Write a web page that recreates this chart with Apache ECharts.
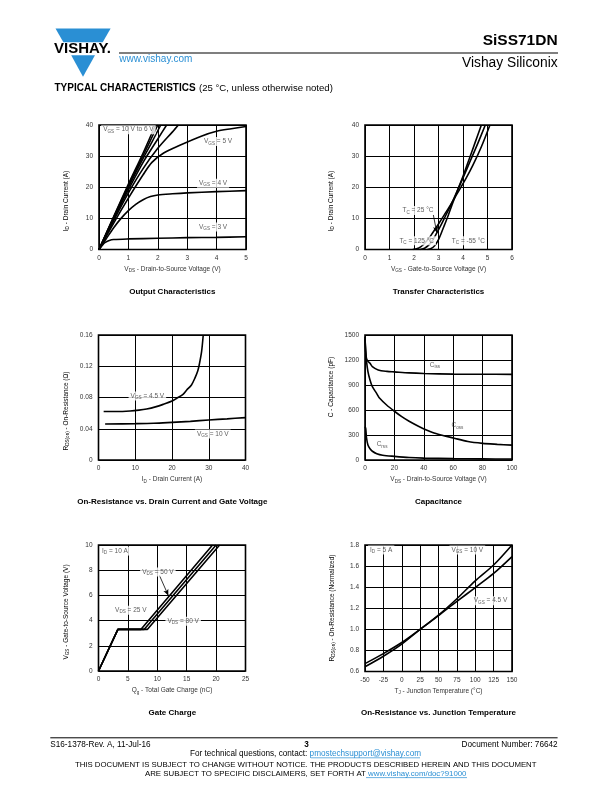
<!DOCTYPE html>
<html><head><meta charset="utf-8">
<script src="https://cdn.jsdelivr.net/npm/echarts@6/dist/echarts.min.js"></script>
<style>html,body{margin:0;padding:0;background:#fff}#c{width:612px;height:792px}</style>
</head><body><div id="c"></div>
<script>
// ---------- DATA ----------
// Output characteristics: [VDS (V), ID (A)]
const outVgs10 = [[0,0],[0.5,10.6],[1,21],[1.5,31],[1.92,40]];
const outVgs9  = [[0,0],[0.5,10.4],[1,20.5],[1.5,30.2],[2.0,40]];
const outVgs8  = [[0,0],[0.5,10.2],[1,20],[1.5,29.3],[1.8,34.5],[2.1,40]];
const outVgs7  = [[0,0],[0.5,9.8],[1,19.2],[1.5,28],[2,35.5],[2.3,40]];
const outVgs6  = [[0,0],[0.5,9.3],[1,18.2],[1.5,26],[2,32.5],[2.5,37.8],[2.7,40]];
const outVgs5  = [[0,0],[0.5,8.5],[1,16.5],[1.5,24],[1.8,28],[2.2,31],[2.75,33.5],[3.5,36.5],[4,38],[4.5,38.8],[5,39.5]];
const outVgs4  = [[0,0],[0.25,3.5],[0.5,7],[0.75,10],[1,12.5],[1.25,14.5],[1.5,16],[1.75,17],[2,17.5],[2.5,17.9],[3,18.2],[4,18.6],[5,18.9]];
const outVgs3  = [[0,0],[0.1,1.2],[0.2,2.2],[0.35,2.9],[0.5,3.2],[1,3.4],[2,3.6],[3,3.8],[4,3.9],[5,4.1]];
// Transfer characteristics: [VGS (V), ID (A)]
const trTm55  = [[2.55,0],[2.7,0.3],[2.85,1.3],[3.0,3.2],[3.1,5],[3.25,8],[3.4,11],[3.55,14.3],[3.8,19.5],[4.0,23.5],[4.25,29],[4.5,34.5],[4.75,40]];
const trT25   = [[2.25,0],[2.45,0.5],[2.65,1.8],[2.8,3.5],[2.92,5.2],[3.1,7.8],[3.3,11],[3.5,14.2],[3.75,18.5],[4.0,23],[4.3,28.5],[4.6,34],[4.91,40]];
const trT125  = [[1.95,0],[2.2,0.5],[2.4,1.7],[2.6,3.5],[2.75,5.2],[3.0,8.2],[3.25,11.3],[3.48,14.2],[3.75,17.8],[4.1,22.5],[4.4,27],[4.75,33],[5.1,40]];
// On-resistance vs drain current: [ID (A), RDS(on) (ohm)]
const rdsVgs45 = [[1.4,0.062],[5,0.062],[8.6,0.0627],[11,0.0638],[13.1,0.0653],[15.5,0.068],[17.6,0.0712],[20,0.0755],[21.3,0.079],[23,0.084],[24,0.0896],[25.3,0.096],[26.2,0.1045],[27,0.114],[27.4,0.1216],[28.05,0.1387],[28.5,0.16]];
const rdsVgs10 = [[1.8,0.046],[10,0.0465],[15,0.047],[20,0.0482],[25,0.0495],[30,0.0512],[35,0.0527],[40,0.0543]];
// Capacitance: [VDS (V), C (pF)]
const capCiss = [[0,1480],[0.5,1300],[1,1220],[2,1185],[3.4,1160],[5,1120],[9,1080],[15,1063],[20,1057],[30,1045],[40,1038],[60,1031],[80,1029],[100,1027]];
const capCoss = [[0,1450],[0.5,1300],[1,1190],[2,1060],[3.4,960],[5,880],[7.9,800],[10,740],[14.7,660],[20,585],[25,520],[30,465],[37,400],[46,330],[53,295],[60,265],[70,222],[80,200],[90,188],[100,178]];
const capCrss = [[0,400],[0.5,377],[1,270],[2,180],[3.4,135],[5,105],[8,76],[12,58],[20,44],[30,30],[40,23],[60,16],[80,13],[100,12]];
// Gate charge: [Qg (nC), VGS (V)]
const gcVds25 = [[0,0],[3.3,3.3],[7.2,3.3],[19.4,10]];
const gcVds50 = [[0,0],[3.3,3.3],[7.75,3.3],[20.0,10]];
const gcVds80 = [[0,0],[3.3,3.3],[8.3,3.3],[20.6,10]];
// On-resistance vs junction temperature: [TJ (°C), normalized RDS(on)]
const rtVgs10 = [[-50,0.645],[-25,0.745],[0,0.86],[25,1.0],[50,1.135],[75,1.29],[100,1.46],[125,1.61],[150,1.8]];
const rtVgs45 = [[-50,0.675],[-25,0.77],[0,0.875],[25,1.0],[50,1.13],[75,1.265],[100,1.396],[125,1.53],[150,1.69]];
// Annotations: [x, y, text, whiteBackground]
const annOut = [[1.0,38.5,'{n|V}{s|GS}{n| = 10 V to 6 V}',1],[4.05,34.7,'{n|V}{s|GS}{n| = 5 V}',1],[3.88,21.3,'{n|V}{s|GS}{n| = 4 V}',1],[3.88,7.2,'{n|V}{s|GS}{n| = 3 V}',1]];
const annTr = [[2.16,12.5,'{n|T}{s|C}{n| = 25 °C}',1],[2.11,2.8,'{n|T}{s|C}{n| = 125 °C}',1],[4.22,2.8,'{n|T}{s|C}{n| = -55 °C}',1]];
const annRds = [[13.3,0.0819,'{n|V}{s|GS}{n| = 4.5 V}',1],[31.1,0.0333,'{n|V}{s|GS}{n| = 10 V}',1]];
const annCap = [[47.6,1139,'{n|C}{s|iss}',0],[62.9,417,'{n|C}{s|oss}',0],[11.6,189,'{n|C}{s|rss}',0]];
const annGc = [[2.8,9.52,'{n|I}{s|D}{n| = 10 A}',1],[10.1,7.85,'{n|V}{s|DS}{n| = 50 V}',1],[5.5,4.83,'{n|V}{s|DS}{n| = 25 V}',1],[14.4,3.95,'{n|V}{s|DS}{n| = 80 V}',1]];
const annRt = [[-28,1.753,'{n|I}{s|D}{n| = 5 A}',1],[89.2,1.753,'{n|V}{s|GS}{n| = 10 V}',1],[120.8,1.272,'{n|V}{s|GS}{n| = 4.5 V}',1]];
const arrowTr = [[2.79,11.1],[2.93,5.4]];
const arrowGc = [[10.34,7.61],[11.87,6.0]];

// ---------- STYLE ----------
const FF = '"Liberation Sans", Arial, sans-serif';
const TXT = '#333';
const rich = {
  n: {fontSize: 6.5, fontFamily: FF, color: TXT, lineHeight: 9},
  s: {fontSize: 4.6, fontFamily: FF, color: TXT, lineHeight: 5, verticalAlign: 'bottom'}
};
const grids = [
  {left: 99, top: 125, width: 147, height: 124.5},
  {left: 365, top: 125, width: 147, height: 124.5},
  {left: 98.5, top: 335, width: 147, height: 125},
  {left: 365, top: 335, width: 147, height: 125},
  {left: 98.5, top: 545, width: 147, height: 126},
  {left: 365, top: 545, width: 147, height: 126.5}
].map(g => Object.assign({show: true, borderColor: '#000', borderWidth: 1.6, backgroundColor: 'transparent'}, g));

const plain = v => String(v);
function xAx(i, min, max, interval, name, fmt) {
  return {gridIndex: i, type: 'value', min, max, interval,
    name, nameLocation: 'middle', nameGap: 15, nameTextStyle: {rich, fontSize: 6.5},
    axisLine: {show: false}, axisTick: {show: false},
    splitLine: {show: true, lineStyle: {color: '#000', width: 1}},
    axisLabel: {fontSize: 6.5, fontFamily: FF, color: TXT, margin: 5, formatter: fmt || plain}};
}
function yAx(i, min, max, interval, fmt) {
  return {gridIndex: i, type: 'value', min, max, interval,
    axisLine: {show: false}, axisTick: {show: false},
    splitLine: {show: true, lineStyle: {color: '#000', width: 1}},
    axisLabel: {fontSize: 6.5, fontFamily: FF, color: TXT, margin: 6, formatter: fmt || plain}};
}
function curve(i, data, smooth) {
  return {type: 'line', xAxisIndex: i, yAxisIndex: i, data, symbol: 'none', showSymbol: false,
    smooth: smooth === undefined ? 0.3 : smooth,
    lineStyle: {color: '#000', width: 1.6}, clip: true, silent: true, z: 3};
}
function ann(i, list, arrow) {
  const s = {type: 'scatter', xAxisIndex: i, yAxisIndex: i, symbolSize: 0, silent: true, z: 5,
    data: list.map(a => ({value: [a[0], a[1]], label: {show: true, position: 'inside', formatter: a[2], rich,
      backgroundColor: a[3] ? '#fff' : 'transparent', padding: [0, 2]}}))};
  if (arrow) {
    s.markLine = {silent: true, symbol: ['none', 'arrow'], symbolSize: [4, 6], label: {show: false},
      lineStyle: {color: '#000', width: 0.8, type: 'solid'},
      data: [[{coord: arrow[0]}, {coord: arrow[1]}]]};
  }
  return s;
}
const f2 = v => v === 0 ? '0' : v.toFixed(2);
const f1 = v => v.toFixed(1);

const xAxes = [
  xAx(0, 0, 5, 1, '{n|V}{s|DS}{n| - Drain-to-Source Voltage (V)}'),
  xAx(1, 0, 6, 1, '{n|V}{s|GS}{n| - Gate-to-Source Voltage (V)}'),
  xAx(2, 0, 40, 10, '{n|I}{s|D}{n| - Drain Current (A)}'),
  xAx(3, 0, 100, 20, '{n|V}{s|DS}{n| - Drain-to-Source Voltage (V)}'),
  xAx(4, 0, 25, 5, '{n|Q}{s|g}{n| - Total Gate Charge (nC)}'),
  xAx(5, -50, 150, 25, '{n|T}{s|J}{n| - Junction Temperature (°C)}')
];
const yAxes = [
  yAx(0, 0, 40, 10), yAx(1, 0, 40, 10), yAx(2, 0, 0.16, 0.04, f2),
  yAx(3, 0, 1500, 300), yAx(4, 0, 10, 2), yAx(5, 0.6, 1.8, 0.2, f1)
];

const series = [
  curve(0, outVgs10), curve(0, outVgs9), curve(0, outVgs8), curve(0, outVgs7), curve(0, outVgs6),
  curve(0, outVgs5), curve(0, outVgs4), curve(0, outVgs3), ann(0, annOut),
  curve(1, trTm55), curve(1, trT25), curve(1, trT125), ann(1, annTr, arrowTr),
  curve(2, rdsVgs45), curve(2, rdsVgs10), ann(2, annRds),
  curve(3, capCiss), curve(3, capCoss), curve(3, capCrss), ann(3, annCap),
  curve(4, gcVds25, false), curve(4, gcVds50, false), curve(4, gcVds80, false), ann(4, annGc, arrowGc),
  curve(5, rtVgs10), curve(5, rtVgs45), ann(5, annRt)
];

// ---------- PAGE TEXT ----------
const BLUE = '#2a8fd4';
function txt(x, y, text, font, opts) {
  return {type: 'text', x, y, silent: true, style: Object.assign({text, font, fill: '#000', align: 'left', verticalAlign: 'middle'}, opts || {})};
}
function rtxt(x, y, text, rot) {
  return {type: 'text', x, y, rotation: rot || 0, silent: true,
    style: {text, rich, align: 'center', verticalAlign: 'middle', font: '6.5px ' + FF}};
}
const graphic = [
  {type: 'polygon', silent: true, shape: {points: [[55.5,28.4],[110.6,28.4],[102.7,42.2],[63.4,42.2]]}, style: {fill: BLUE}},
  {type: 'polygon', silent: true, shape: {points: [[71.2,55.3],[95.0,55.3],[83,76.7]]}, style: {fill: BLUE}},
  txt(82.5, 49, 'VISHAY.', 'bold 15px ' + FF, {align: 'center'}),
  {type: 'line', silent: true, shape: {x1: 119, y1: 53, x2: 558, y2: 53}, style: {stroke: '#000', lineWidth: 1.2}},
  txt(557.6, 41, 'SiSS71DN', 'bold 15.5px ' + FF, {align: 'right'}),
  txt(557.6, 63.5, 'Vishay Siliconix', '13.8px ' + FF, {align: 'right'}),
  txt(119.2, 59.5, 'www.vishay.com', '10px ' + FF, {fill: BLUE}),
  {type: 'text', x: 54.5, y: 88.7, silent: true, style: {text: '{b|TYPICAL CHARACTERISTICS} {r|(25 °C, unless otherwise noted)}', verticalAlign: 'middle',
    rich: {b: {font: 'bold 10px ' + FF, fill: '#000'}, r: {font: '9.6px ' + FF, fill: '#000'}}}},
  // chart titles
  txt(172.3, 292, 'Output Characteristics', 'bold 8px ' + FF, {align: 'center'}),
  txt(438.5, 292, 'Transfer Characteristics', 'bold 8px ' + FF, {align: 'center'}),
  txt(172.3, 501.5, 'On-Resistance vs. Drain Current and Gate Voltage', 'bold 8px ' + FF, {align: 'center'}),
  txt(438.5, 501.5, 'Capacitance', 'bold 8px ' + FF, {align: 'center'}),
  txt(172.3, 712.5, 'Gate Charge', 'bold 8px ' + FF, {align: 'center'}),
  txt(438.5, 712.5, 'On-Resistance vs. Junction Temperature', 'bold 8px ' + FF, {align: 'center'}),
  // y axis names
  rtxt(66, 201, '{n|I}{s|D}{n| - Drain Current (A)}', Math.PI / 2),
  rtxt(331, 201, '{n|I}{s|D}{n| - Drain Current (A)}', Math.PI / 2),
  rtxt(66, 411, '{n|R}{s|DS(on)}{n| - On-Resistance (Ω)}', Math.PI / 2),
  rtxt(331, 387, '{n|C - Capacitance (pF)}', Math.PI / 2),
  rtxt(66, 612, '{n|V}{s|GS}{n| - Gate-to-Source Voltage (V)}', Math.PI / 2),
  rtxt(332, 608, '{n|R}{s|DS(on)}{n| - On-Resistance (Normalized)}', Math.PI / 2),
  // footer
  {type: 'line', silent: true, shape: {x1: 50.3, y1: 737.8, x2: 557.6, y2: 737.8}, style: {stroke: '#000', lineWidth: 1}},
  txt(50.3, 744.5, 'S16-1378-Rev. A, 11-Jul-16', '8.2px ' + FF),
  txt(306.5, 744.5, '3', 'bold 8.2px ' + FF, {align: 'center'}),
  txt(557.6, 744.5, 'Document Number: 76642', '8.2px ' + FF, {align: 'right'}),
  {type: 'text', x: 305.5, y: 753.5, silent: true, style: {text: '{a|For technical questions, contact: }{l|pmostechsupport@vishay.com}', align: 'center', verticalAlign: 'middle',
    rich: {a: {font: '8.2px ' + FF, fill: '#000'}, l: {font: '8.2px ' + FF, fill: BLUE}}}},
  {type: 'line', silent: true, shape: {x1: 311, y1: 757.8, x2: 420, y2: 757.8}, style: {stroke: BLUE, lineWidth: 0.7}},
  txt(305.7, 764.5, 'THIS DOCUMENT IS SUBJECT TO CHANGE WITHOUT NOTICE. THE PRODUCTS DESCRIBED HEREIN AND THIS DOCUMENT', '7.8px ' + FF, {align: 'center'}),
  {type: 'text', x: 305.7, y: 773.5, silent: true, style: {text: '{a|ARE SUBJECT TO SPECIFIC DISCLAIMERS, SET FORTH AT }{l|www.vishay.com/doc?91000}', align: 'center', verticalAlign: 'middle',
    rich: {a: {font: '7.85px ' + FF, fill: '#000'}, l: {font: '7.85px ' + FF, fill: BLUE}}}},
  {type: 'line', silent: true, shape: {x1: 366, y1: 777.6, x2: 467, y2: 777.6}, style: {stroke: BLUE, lineWidth: 0.7}}
];

const chart = echarts.init(document.getElementById('c'), null, {renderer: 'canvas'});
chart.setOption({
  animation: false,
  backgroundColor: '#fff',
  textStyle: {fontFamily: FF},
  grid: grids, xAxis: xAxes, yAxis: yAxes, series, graphic
});
</script></body></html>
